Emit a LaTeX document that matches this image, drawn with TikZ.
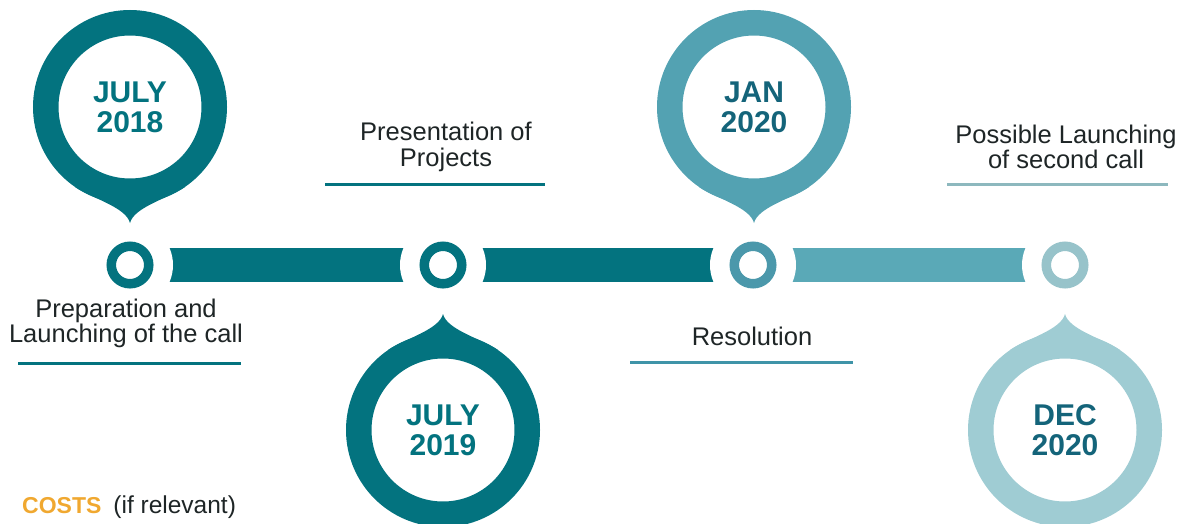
\documentclass[tikz,border=0pt]{standalone}
\usepackage{fontspec}
\setmainfont{Liberation Sans}
\usetikzlibrary{calc}
\definecolor{tealdark}{HTML}{03737F}
\definecolor{tealmed}{HTML}{53A2B2}
\definecolor{tealmring}{HTML}{4B98AB}
\definecolor{tealmbar}{HTML}{5AA9B7}
\definecolor{teallight}{HTML}{9FCCD3}
\definecolor{teallring}{HTML}{97C3CA}
\definecolor{datetext}{HTML}{14647A}
\definecolor{lbltext}{HTML}{1E2526}
\definecolor{ulmed}{HTML}{3F94A8}
\definecolor{ullight}{HTML}{8DB8BE}
\definecolor{costorange}{HTML}{F0A830}
\newcommand\pintip[3]{%
  \fill[#3] ($(#1)+(-55,{80*(#2)})$) .. controls ($(#1)+(-39,{91*(#2)})$) and ($(#1)+(-4,{100*(#2)})$) .. ($(#1)+(0,{116*(#2)})$)
    .. controls ($(#1)+(4,{100*(#2)})$) and ($(#1)+(39,{91*(#2)})$) .. ($(#1)+(55,{80*(#2)})$) -- (#1) -- cycle;}
\begin{document}
\begin{tikzpicture}[x=1pt,y=-1pt,
  bar/.style={line width=34pt},
  ring/.style={circle, minimum size=37.5pt, line width=9.5pt, fill=white, inner sep=0pt},
  pinc/.style={circle, minimum size=168.5pt, line width=25.5pt, fill=white, inner sep=0pt, align=center,
     font=\fontsize{30}{30}\selectfont\bfseries},
  lbl/.style={align=center, inner sep=0pt, text=lbltext, font=\fontsize{25.5}{25}\selectfont},
  ul/.style={line width=3pt}]
\useasboundingbox (0,0) rectangle (1188,524);
% timeline
\coordinate (c1) at (130,265);
\coordinate (c2) at (443,265);
\coordinate (c3) at (753,265);
\coordinate (c4) at (1065,265);
\draw[bar, tealdark] (c1) -- (c2);
\draw[bar, tealdark] (c2) -- (c3);
\draw[bar, tealmbar] (c3) -- (c4);
\foreach \c in {c1,c2,c3,c4} \fill[white] (\c) circle (43);
\node[ring, draw=tealdark] (n1) at (c1) {};
\node[ring, draw=tealdark] (n2) at (c2) {};
\node[ring, draw=tealmring] (n3) at (c3) {};
\node[ring, draw=teallring] (n4) at (c4) {};
% pins
\coordinate (p1c) at (130,107);
\coordinate (p2c) at (443,430);
\coordinate (p3c) at (754,107);
\coordinate (p4c) at (1065,430);
\pintip{p1c}{1}{tealdark}
\pintip{p2c}{-1}{tealdark}
\pintip{p3c}{1}{tealmed}
\pintip{p4c}{-1}{teallight}
\node[pinc, draw=tealdark, text=tealdark] (p1) at (p1c) {JULY\\2018};
\node[pinc, draw=tealdark, text=tealdark] (p2) at ($(p2c)+(0,0)$) {JULY\\2019};
\node[pinc, draw=tealmed, text=datetext] (p3) at (p3c) {JAN\\2020};
\node[pinc, draw=teallight, text=datetext] (p4) at (p4c) {DEC\\2020};
% labels
\node[lbl, anchor=base] (l1) at (126,342) {Preparation and\\Launching of the call};
\node[lbl, anchor=base] (l2) at (446,166) {Presentation of\\Projects};
\node[lbl, anchor=base] (l3) at (752,345) {Resolution};
\node[lbl, anchor=base] (l4) at (1066,168) {Possible Launching\\of second call};
\draw[ul, tealdark] (18,363) -- (241,363);
\draw[ul, tealdark] (325,184) -- (545,184);
\draw[ul, ulmed] (630,362) -- (853,362);
\draw[ul, ullight] (947,184) -- (1168,184);
% costs
\node[anchor=base west, inner sep=0pt, text=lbltext] (costs) at (22,513)
  {\fontsize{23}{23}\selectfont\textbf{\textcolor{costorange}{COSTS}}\hspace{12pt}\fontsize{24.5}{24.5}\selectfont(if relevant)};
\end{tikzpicture}
\end{document}
